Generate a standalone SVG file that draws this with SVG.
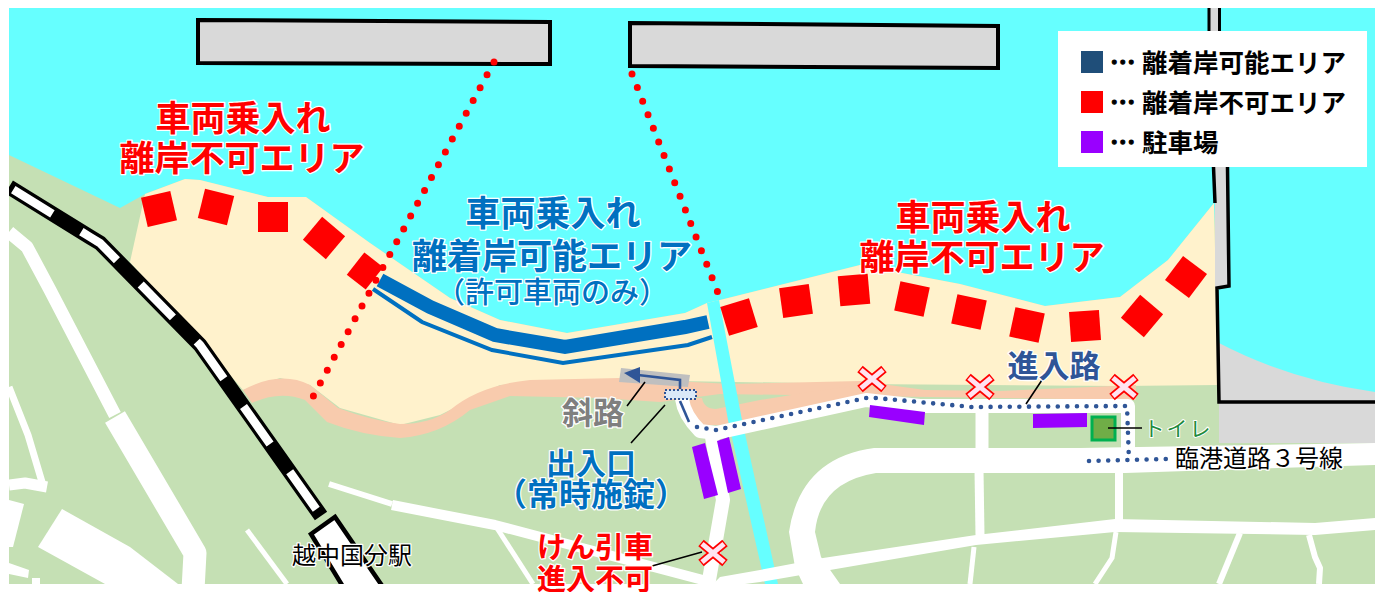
<svg xmlns="http://www.w3.org/2000/svg" width="1375" height="592" viewBox="0 0 1375 592">
<style>
text{font-family:"Noto Sans CJK JP","Noto Sans CJK SC",sans-serif;text-anchor:middle;paint-order:stroke;stroke:#fff;stroke-linejoin:round}
.r{fill:#f00;font-size:35px;font-weight:700;stroke-width:2.5px}
.b{fill:#0070c0;font-size:35px;font-weight:700;stroke-width:2.5px}
.k{fill:#000;font-size:24px;stroke-width:2.5px}
.lg{fill:#000;font-size:25.500px;font-weight:700;stroke:none;text-anchor:start}
.road{fill:none;stroke:#fff;stroke-linejoin:round}
.wf{fill:#fff}
.red{fill:#f00}
.pur{fill:#90f}
.pier{fill:#d9d9d9;stroke:#000;stroke-width:4}
.lead{fill:none;stroke:#000;stroke-width:1.6}
.rd{fill:none;stroke:#f00;stroke-width:7;stroke-linecap:round;stroke-dasharray:0 14.6}
.bd{fill:none;stroke:#2f5597;stroke-width:4.6;stroke-linecap:round;stroke-dasharray:0 9.6}
.xo{fill:none;stroke:#f00;stroke-width:8.5}
.xi{fill:none;stroke:#ffe3f1;stroke-width:5}
</style>
<defs>
<clipPath id="map"><rect x="9" y="8" width="1366" height="576"/></clipPath>
<rect id="sq" x="-15" y="-15" width="30" height="30" class="red"/>
<g id="x"><path class="xo" d="M-12-10L12 10M-12 10L12-10"/><path class="xi" d="M-11-9.200L11 9.200M-11 9.200L11-9.200"/></g>
</defs>
<g id="map-base" clip-path="url(#map)">
<rect x="9" y="8" width="1366" height="576" fill="#66ffff"/>
<path fill="#c5e0b4" d="M9 155L120 208L147 193L185 179L200 180L268 197L306 197L370 243L450 298L500 320L567 333L685 313L707 303L720 300L860 265L960 284L1045 306L1120 297L1168 260L1214 203L1219 340V443H1375V584H9Z"/>
<path fill="#fff2cc" d="M145 194L185 179L200 180L268 197L306 197L370 243L450 298L500 320L567 333L685 313L707 303L720 300L860 265L960 284L1045 306L1120 297L1168 260L1214 203L1218 385L1120 386L860 384L620 380L500 385L440 415L400 425L340 408L310 385L280 378L243 390L200 340L130 262Z"/>
<path fill="#f8cbad" d="M243 390Q280 370 310 385L338 408Q370 420 400 424Q430 424 450 410Q480 385 530 380L620 378L730 384L860 381L925 390L1000 391L1136 385L1136 400L860 396L720 394L660 402L600 398L510 396L470 410Q440 435 400 438Q360 435 327 422L305 400Q280 390 252 403Z"/>
<path fill="#f8cbad" d="M690 398L702 398Q704 409 716 409L760 400L810 392L860 385L870 400L810 411L720 425L700 425L688 410Z"/>
<path fill="#d9d9d9" d="M1219 343Q1290 380 1375 392V443H1219Z"/>
<polygon fill="#66ffff" points="707,303 719,300 742,420 778,584 765,584 728,420"/>
</g>
<g id="roads" clip-path="url(#map)">
<path class="road" stroke-width="13" d="M9 232L27 247L50 290L115 415"/>
<path class="road" stroke-width="23" d="M115 417L195 553L193 590"/>
<path class="road" stroke-width="7" d="M9 387L28 435L42 482"/>
<path class="road" stroke-width="11" d="M9 485L25 483L47 487"/>
<polygon class="wf" points="9,500 24,504 13,547 9,547"/>
<polygon class="wf" points="9,563 29,570 28,578 9,574"/>
<rect class="wf" x="32" y="578" width="8" height="6"/>
<polygon class="wf" points="62,509 130,547 178,584 105,584 38,547"/>
<path class="road" stroke-width="5" d="M247 530L287 584"/>
<path class="road" stroke-width="6" d="M329 484L392 504"/>
<path class="road" stroke-width="10" d="M392 505L495 525L703 580"/>
<path class="road" stroke-width="5" d="M495 525L533 584"/>
<path class="road" stroke-width="14" d="M712 437L723 500L708 586"/>
<path class="road" stroke-width="14" d="M682 399Q684 415 700 431L716 433L866 400L920 406L1128 406L1128 450"/>
<path class="road" stroke-width="13" d="M982 410V450"/>
<path class="road" stroke-width="9" d="M979 470L980 535"/>
<path class="road" stroke-width="8" d="M1119 470V525"/>
<path class="wf" d="M1375 443L1080 448H874Q800 458 789 532L795 567L803 584H840L821 557L815 532Q820 482 876 473H1125L1375 465Z"/>
<polygon class="wf" points="713,584 720,577 760,570 823,558 976,535 1115,519 1315,523 1375,518 1375,530 1315,535 1115,532 976,545 830,570 760,582 745,584"/>
<path class="road" stroke-width="5" d="M1116 532L1112 558L1095 584"/>
<path class="road" stroke-width="6" d="M1240 533L1219 584"/>
<path class="road" stroke-width="6" d="M1309 535L1315 557L1320 568L1319 584"/>
<path class="road" stroke-width="5" d="M974 547L970 584"/>
</g>
<g id="railway" clip-path="url(#map)">
<path fill="none" stroke="#000" stroke-width="15" d="M9 187L90 237L100 243L200 345L321 516"/>
<path fill="none" stroke="#fff" stroke-width="8.500" stroke-dasharray="46 34" stroke-dashoffset="-5" d="M9 187L90 237L100 243L200 345L321 516"/>
<polygon fill="#fff" stroke="#000" stroke-width="4.500" points="311,534 335,517 385,590 345,590"/>
</g>
<g id="quay" clip-path="url(#map)">
<rect x="1209" y="8" width="11" height="24" fill="#d9d9d9"/>
<path fill="none" stroke="#000" stroke-width="3" d="M1209 8V32M1219.500 8V32"/>
<polygon fill="#d9d9d9" points="1214,167 1228,167 1229,286 1215,288 1215,203"/>
<path fill="none" stroke="#000" stroke-width="3.500" d="M1213.500 167L1215 203M1227.500 167L1229 286L1217 288L1219 402H1375"/>
</g>
<g id="pier-1"><polygon class="pier" points="198,20 550,22 550,64 198,63"/></g>
<g id="pier-2"><polygon class="pier" points="630,23 998,26 998,68 630,66"/></g>
<g id="area-ok"><path fill="none" stroke="#0070c0" stroke-width="14" d="M380 280L430 307L495 335L565 347L685 327L708 322"/><path fill="none" stroke="#0070c0" stroke-width="4" d="M373 289L422 322L492 350L563 363L688 345L712 337"/></g>
<g id="area-ng-left">
<use href="#sq" transform="translate(159 209) rotate(-13)"/><use href="#sq" transform="translate(216 207) rotate(14)"/><use href="#sq" transform="translate(273 217)"/><use href="#sq" transform="translate(324 238) rotate(40)"/><use href="#sq" transform="translate(365 271) rotate(38) scale(.8 .95)"/>
</g>
<g id="area-ng-right">
<use href="#sq" transform="translate(739 317) rotate(-17)"/><use href="#sq" transform="translate(796 301) rotate(-8)"/><use href="#sq" transform="translate(854 290) rotate(-5)"/><use href="#sq" transform="translate(912 299) rotate(12)"/><use href="#sq" transform="translate(969 312) rotate(12)"/><use href="#sq" transform="translate(1027 325) rotate(12)"/><use href="#sq" transform="translate(1085 326) rotate(-4)"/><use href="#sq" transform="translate(1142 316) rotate(40)"/><use href="#sq" transform="translate(1186 277) rotate(37)"/>
</g>
<g id="parking"><polygon class="pur" points="692,447 705,443 718,495 704,499"/><polygon class="pur" points="717,441 729,437 741,489 728,493"/><polygon class="pur" points="870,405 925,412 924,425 869,417"/><polygon class="pur" points="1033,414 1087,413 1087,427 1033,428"/></g>
<g id="slope"><polygon fill="#bfbfbf" points="621,368 690,375 688,387 619,382"/><path fill="none" stroke="#2f5597" stroke-width="2.600" d="M680 389V380L638 375"/><polygon fill="#2f5597" points="624,373 640,367 640,383"/></g>
<g id="gate"><rect x="665" y="390" width="31" height="9" fill="#dae8f7" stroke="#2f5597" stroke-width="2" stroke-dasharray="2 2"/></g>
<g id="toilet"><rect x="1092" y="417" width="23" height="23" fill="#70ad47" stroke="#00b050" stroke-width="3"/></g>
<g id="connectors">
<path class="rd" d="M494 62L309 404"/>
<path class="rd" d="M632 74L720 298"/>
<path class="bd" d="M697 427L716 430L866 398L876 398L972 407L1127 406L1129 461"/>
<path class="bd" d="M1089 461L1168 459"/>
<path fill="none" stroke="#2f5597" stroke-width="2.600" d="M680 401L689 422"/>
<path class="lead" d="M645 382L627 406M665 405L631 443M652 566L702 552M1042 380L1026 404M1108 428H1142"/>
</g>
<g id="stops"><use href="#x" x="872" y="379"/><use href="#x" x="980" y="387"/><use href="#x" x="1124" y="387"/><use href="#x" x="713" y="553"/></g>
<g id="label-ng-left"><text class="r" x="243" y="131">車両乗入れ</text><text class="r" x="242" y="171">離岸不可エリア</text></g>
<g id="label-ok"><text class="b" x="553" y="226">車両乗入れ</text><text class="b" x="552" y="269">離着岸可能エリア</text><text class="b" x="552" y="303" style="font-size:29px;font-weight:500">（許可車両のみ）</text></g>
<g id="label-ng-right"><text class="r" x="983" y="230">車両乗入れ</text><text class="r" x="982" y="270">離岸不可エリア</text></g>
<g id="label-slope"><text x="593" y="424" fill="#7f7f7f" font-size="31" font-weight="700" stroke-width="2.500">斜路</text></g>
<g id="label-gate"><text class="b" x="591" y="474" style="font-size:30px">出入口</text><text class="b" x="591" y="506" style="font-size:32px">（常時施錠）</text></g>
<g id="label-tow"><text class="r" x="595" y="558" style="font-size:29px">けん引車</text><text class="r" x="595" y="590" style="font-size:29px">進入不可</text></g>
<g id="label-road"><text x="1054" y="377" fill="#2f5597" font-size="31" font-weight="700" stroke-width="2.500">進入路</text></g>
<g id="label-toilet"><text x="1178" y="436" fill="#1e8b3e" font-size="21" letter-spacing="2" stroke-width="2">トイレ</text></g>
<g id="label-route"><text class="k" x="1259" y="467">臨港道路３号線</text></g>
<g id="label-station"><text class="k" x="352" y="564">越中国分駅</text></g>
<g id="legend">
<rect x="1058" y="31" width="309" height="136" fill="#fff"/>
<rect x="1081" y="51" width="22" height="22" fill="#1f4e79"/><rect x="1081" y="91" width="22" height="22" fill="#f00"/><rect x="1081" y="131" width="22" height="22" fill="#90f"/>
<text class="lg" x="1110" y="72"><tspan style="stroke:#000;stroke-width:1px">…</tspan><tspan x="1142">離着岸可能エリア</tspan></text>
<text class="lg" x="1110" y="112"><tspan style="stroke:#000;stroke-width:1px">…</tspan><tspan x="1142">離着岸不可エリア</tspan></text>
<text class="lg" x="1110" y="152"><tspan style="stroke:#000;stroke-width:1px">…</tspan><tspan x="1142">駐車場</tspan></text>
</g>
</svg>
